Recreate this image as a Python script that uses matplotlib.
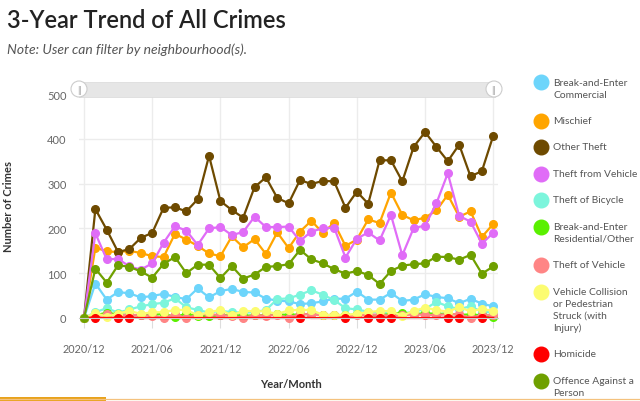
import numpy as np
import matplotlib.pyplot as plt
from matplotlib.patches import Rectangle, Circle

# months from 2020/12 to 2023/12 (37 points)
months = np.arange(37)
tick_pos = [0, 6, 12, 18, 24, 30, 36]
tick_labels = ['2020/12', '2021/06', '2021/12', '2022/06', '2022/12', '2023/06', '2023/12']

be_commercial = [0, 77, 41, 58, 55, 46, 49, 54, 47, 42, 66, 46, 60, 65, 58, 57, 43, 39, 37, 31,
                 33, 37, 43, 43, 59, 41, 41, 56, 38, 41, 53, 47, 44, 33, 43, 32, 26]
mischief = [0, 157, 149, 147, 150, 145, 138, 136, 188, 175, 161, 144, 138, 182, 158, 176, 143, 191, 156, 193,
            217, 190, 212, 161, 175, 220, 212, 280, 230, 218, 224, 240, 275, 226, 238, 181, 210]
other_theft = [0, 243, 197, 147, 154, 179, 190, 246, 247, 238, 265, 362, 261, 241, 224, 292, 314, 268, 256, 308,
               299, 306, 305, 246, 282, 255, 352, 352, 305, 382, 415, 382, 350, 387, 316, 328, 407]
theft_from_vehicle = [0, 189, 131, 132, 115, 108, 122, 168, 205, 195, 163, 200, 203, 185, 192, 226, 203, 203, 204, 172,
                      193, 200, 202, 135, 177, 191, 173, 230, 140, 201, 206, 256, 323, 228, 215, 166, 190]
theft_bicycle = [0, 13, 22, 12, 19, 26, 31, 34, 44, 24, 18, 12, 16, 13, 12, 13, 18, 42, 44, 52,
                 62, 52, 40, 22, 19, 14, 12, 12, 10, 14, 20, 36, 26, 20, 26, 14, 12]
be_residential = [0, 6, 12, 8, 7, 6, 7, 9, 3, 9, 5, 4, 6, 7, 5, 6, 6, 8, 7, 8,
                  9, 6, 7, 6, 8, 7, 6, 9, 12, 8, 11, 9, 10, 7, 8, 6, 3]
theft_of_vehicle = [0, 5, 8, 6, 7, 6, 5, 0, 8, 0, 7, 9, 6, 5, 0, 6, 5, 7, 0, 9,
                    8, 6, 7, 5, 6, 8, 7, 5, 6, 8, 7, 6, 9, 8, 0, 7, 6]
vehicle_collision = [0, 11, 3, 10, 16, 9, 13, 13, 18, 18, 6, 13, 18, 6, 16, 15, 15, 9, 17, 18,
                     18, 7, 7, 7, 9, 13, 16, 15, 5, 16, 23, 18, 14, 24, 15, 20, 16]
homicide = [0, 1, 0, 1, 1, 0, 0, 0, 0, 0, 0, 0, 0, 0, 0, 0, 0, 0, 0, 1,
            0, 0, 0, 1, 0, 1, 1, 1, 0, 0, 0, 0, 1, 1, 0, 1, 0]
offence_person = [0, 110, 79, 118, 114, 104, 90, 121, 136, 100, 119, 119, 89, 116, 88, 97, 114, 116, 120, 152,
                  131, 122, 109, 99, 105, 96, 76, 105, 117, 120, 122, 137, 136, 130, 141, 99, 115]

series = [
    ('Break-and-Enter\nCommercial', be_commercial, '#6dd5fb'),
    ('Mischief', mischief, '#ffa500'),
    ('Other Theft', other_theft, '#6e4a00'),
    ('Theft from Vehicle', theft_from_vehicle, '#e06cf7'),
    ('Theft of Bicycle', theft_bicycle, '#7cf5dc'),
    ('Break-and-Enter\nResidential/Other', be_residential, '#5af000'),
    ('Theft of Vehicle', theft_of_vehicle, '#ff8585'),
    ('Vehicle Collision\nor Pedestrian\nStruck (with\nInjury)', vehicle_collision, '#fcfc70'),
    ('Homicide', homicide, '#ff0000'),
    ('Offence Against a\nPerson', offence_person, '#6fa000'),
]

plt.rcParams['font.family'] = ['Lato', 'DejaVu Sans']

fig = plt.figure(figsize=(6.4, 4.02), dpi=100)
ax = fig.add_axes([79/640, 1 - 319/402, 418.7/640, 224/402])

for name, vals, col in series:
    vals = np.array(vals)
    if name == 'Homicide':
        # markers only where a homicide was recorded
        mk = [i for i in range(len(vals)) if vals[i] > 0]
        ax.plot(months, vals, color=col, lw=1.6, marker='o', ms=5.5, markevery=mk, clip_on=False)
    else:
        ax.plot(months, vals, color=col, lw=1.6, marker='o', ms=5.5, clip_on=False)

ax.set_xlim(-0.44, 36.39)
ax.set_ylim(0, 500)
ax.set_yticks(range(0, 501, 100))
ax.set_xticks(tick_pos)
ax.set_xticklabels(tick_labels)
ax.grid(True, color='#ececec', lw=1)
ax.set_axisbelow(True)
for s in ['top', 'right', 'left']:
    ax.spines[s].set_visible(False)
ax.spines['bottom'].set_color('#cccccc')
ax.tick_params(axis='y', length=0, pad=9, labelsize=8, labelcolor='#666666')
ax.tick_params(axis='x', length=7, color='#dddddd', pad=11, labelsize=7.8, labelcolor='#666666')
ax.set_ylabel('Number of Crimes', fontsize=8, fontweight='bold', color='#333333')
ax.yaxis.set_label_coords(-0.155, 0.5)
ax.set_xlabel('Year/Month', fontsize=8, fontweight='bold', color='#333333')
ax.xaxis.set_label_coords(0.506, -0.27)

# overlay in pixel coordinates for title, slider, legend, bottom bar
top = fig.add_axes([0, 0, 1, 1], zorder=5)
top.set_xlim(0, 640)
top.set_ylim(402, 0)
top.axis('off')

top.text(7, 20, '3-Year Trend of All Crimes', fontsize=17, fontweight='semibold',
         color='#222222', va='center', ha='left')
top.text(7, 50, 'Note: User can filter by neighbourhood(s).', fontsize=10, style='italic',
         color='#555555', va='center', ha='left')

# zoom slider
top.add_patch(Rectangle((79, 83), 416, 14.5, facecolor='#e6e6e6', edgecolor='#dddddd', lw=0.6))
for hx in [79, 494]:
    top.add_patch(Circle((hx, 90), 8, facecolor='white', edgecolor='#cccccc', lw=0.8))
    top.text(hx, 90.5, '||', fontsize=7, color='#999999', ha='center', va='center')

# legend
y = 83
for name, vals, col in series:
    lines = name.split('\n')
    top.plot([541], [y], 'o', color=col, ms=10.5, clip_on=False)
    for k, ln in enumerate(lines):
        top.text(553, y + 12*k, ln, fontsize=7.4, color='#555555', va='center', ha='left')
    y += 26.5 + 12*(len(lines) - 1)

# orange bar at bottom
top.plot([0, 640], [399.5, 399.5], color='#f4c27e', lw=0.9)
top.add_patch(Rectangle((0, 398), 106, 4, facecolor='#e8a21c', edgecolor='none'))

plt.savefig('out.png', dpi=100)
